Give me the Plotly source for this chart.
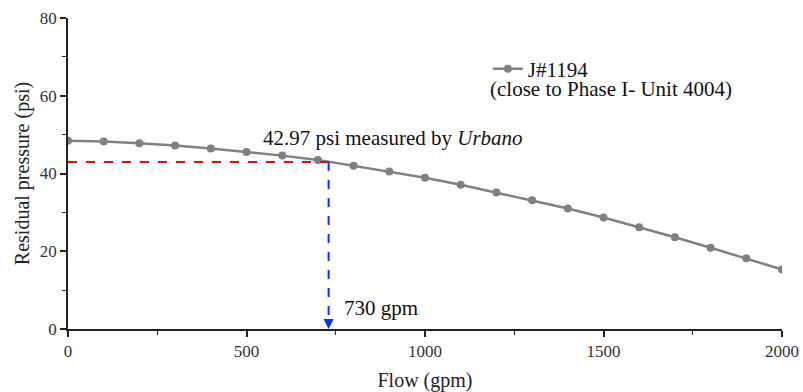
import plotly.graph_objects as go

flow = [0, 100, 200, 300, 400, 500, 600, 700, 800, 900, 1000,
        1100, 1200, 1300, 1400, 1500, 1600, 1700, 1800, 1900, 2000]
pressure = [48.4, 48.2, 47.8, 47.2, 46.4, 45.5, 44.6, 43.5, 42.0, 40.5, 38.9,
            37.1, 35.1, 33.1, 31.0, 28.7, 26.2, 23.6, 20.9, 18.2, 15.3]
measured_psi = 42.97
measured_flow = 730
series_name = "J#1194"
series_note = "(close to Phase I- Unit 4004)"

FONT = "Liberation Serif, Times New Roman, serif"
TXT = 21
TITLE = 20
TICK = 17

fig = go.Figure()
fig.add_trace(go.Scatter(
    x=flow, y=pressure, mode="lines+markers", name=series_name,
    line=dict(color="#808080", width=2.5),
    marker=dict(color="#808080", size=8, symbol="circle"),
))
fig.add_trace(go.Scatter(
    x=[0, measured_flow], y=[measured_psi, measured_psi], mode="lines",
    line=dict(color="#ff0000", width=2, dash="dash"), showlegend=False,
))
fig.add_trace(go.Scatter(
    x=[measured_flow, measured_flow], y=[measured_psi, 2], mode="lines",
    line=dict(color="#0033ff", width=2, dash="dash"), showlegend=False,
))

fig.add_annotation(x=measured_flow, y=0, ax=measured_flow, ay=2.5,
                   xref="x", yref="y", axref="x", ayref="y",
                   showarrow=True, arrowhead=2, arrowsize=1, arrowwidth=2,
                   arrowcolor="#0033ff", text="")
fig.add_annotation(x=768, y=5.4, xref="x", yref="y", xanchor="left", yanchor="middle",
                   text=f"{measured_flow} gpm", showarrow=False,
                   font=dict(family=FONT, size=TXT, color="#111"))
fig.add_annotation(x=540, y=49.2, xref="x", yref="y", xanchor="left", yanchor="middle",
                   text=f"{measured_psi} psi measured by <i>Urbano</i>", showarrow=False,
                   font=dict(family=FONT, size=TXT, color="#111"))
fig.add_annotation(x=0.760, y=0.773, xref="paper", yref="paper", xanchor="center", yanchor="middle",
                   text=series_note, showarrow=False,
                   font=dict(family=FONT, size=TXT, color="#111"))

axis_common = dict(
    showline=True, linecolor="#222", linewidth=1.5,
    ticks="outside", ticklen=6, tickwidth=1.5, tickcolor="#222",
    showgrid=False, zeroline=False, mirror=False, automargin=False,
    tickfont=dict(family=FONT, size=TICK, color="#333"),
)

fig.update_layout(
    width=803, height=392,
    margin=dict(l=68, r=21, t=18, b=63, autoexpand=False),
    plot_bgcolor="white", paper_bgcolor="white",
    font=dict(family=FONT, color="#222"),
    xaxis=dict(range=[0, 2000], tickvals=[0, 500, 1000, 1500, 2000],
               minor=dict(tickvals=[250, 750, 1250, 1750], ticks="outside", ticklen=4,
                          tickwidth=1.2, tickcolor="#222"),
               title=dict(text="Flow (gpm)", font=dict(family=FONT, size=TITLE)),
               **axis_common),
    yaxis=dict(range=[0, 80], tickvals=[0, 20, 40, 60, 80],
               minor=dict(tickvals=[10, 30, 50, 70], ticks="outside", ticklen=4,
                          tickwidth=1.2, tickcolor="#222"),
               title=dict(text="Residual pressure (psi)", font=dict(family=FONT, size=TITLE),
                          standoff=5),
               **axis_common),
    legend=dict(x=0.588, y=0.836, xanchor="left", yanchor="middle",
                bgcolor="rgba(0,0,0,0)", font=dict(family=FONT, size=TXT, color="#111"),
                itemwidth=30, tracegroupgap=0),
    showlegend=True,
)

fig.write_html("out.html")
